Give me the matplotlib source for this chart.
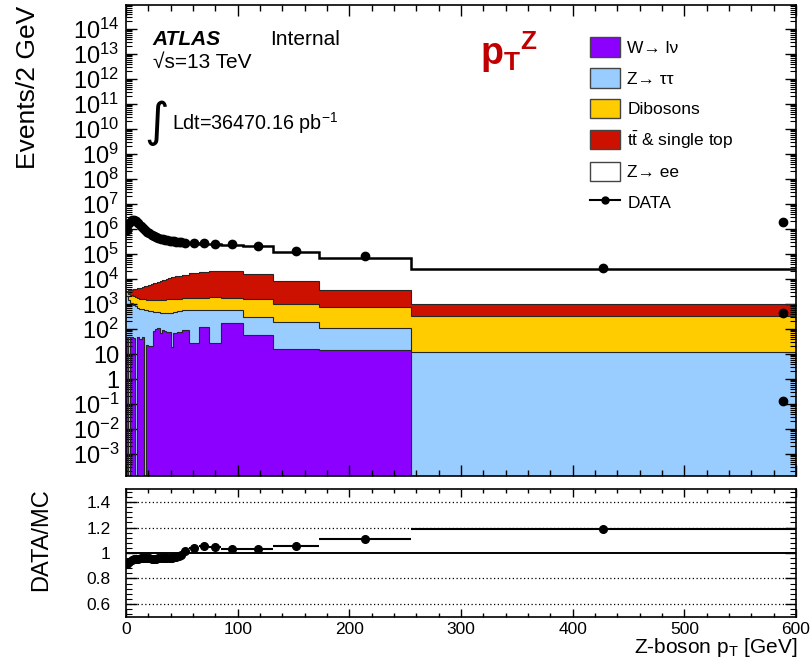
import numpy as np
import matplotlib
matplotlib.use("Agg")
import matplotlib.pyplot as plt
from matplotlib.patches import Patch
from matplotlib.lines import Line2D
from matplotlib.ticker import LogLocator, MultipleLocator, FuncFormatter, NullFormatter, FixedLocator

plt.rcParams['font.family'] = ['Liberation Sans', 'DejaVu Sans']
plt.rcParams['mathtext.fontset'] = 'custom'
plt.rcParams['mathtext.rm'] = 'Liberation Sans'
plt.rcParams['mathtext.it'] = 'Liberation Sans:italic'
plt.rcParams['mathtext.bf'] = 'Liberation Sans:bold'
plt.rcParams['mathtext.sf'] = 'Liberation Sans'

# ---------------- data (events / 2 GeV) ----------------
bin_edges = [0, 2, 4, 6, 8, 10, 12, 14, 16, 18, 20, 22, 24, 26, 28, 30, 32, 34, 36, 38,
             40, 42, 44, 46, 48, 50, 56, 65, 74, 85, 105, 132, 173, 255, 600]

w_lnu = [50, 0, 50, 45, 0, 50, 40, 50, 0, 22, 20, 20, 80, 100, 110, 70, 90, 80, 75, 75,
         19, 68, 70, 78, 78, 90, 27, 123, 28, 178, 60, 16, 15, 0]
z_tautau = [1950, 1410, 1070, 890, 795, 660, 620, 580, 590, 540, 515, 505, 420, 380, 360,
            385, 355, 355, 350, 350, 420, 390, 410, 425, 445, 460, 550, 465, 565, 400,
            250, 180, 97, 11.5]
dibosons = [1100, 1220, 1170, 1110, 1070, 1030, 1000, 955, 925, 915, 910, 920, 945, 965,
            1010, 1020, 1065, 1075, 1120, 1120, 1150, 1130, 1145, 1120, 1135, 1150, 1200,
            1230, 1230, 1200, 1205, 805, 645, 305]
top_single = [300, 920, 1420, 1850, 2210, 2530, 2810, 3200, 3620, 4020, 4440, 4870, 5320,
              5800, 6280, 6840, 7400, 8040, 8680, 9170, 9900, 10440, 10970, 11560, 12140,
              13440, 15200, 17240, 18600, 19600, 15080, 7710, 2960, 730]
z_ee = [997000, 1896000, 2446000, 2396000, 2086000, 1736000, 1406000, 1145000, 950000,
        808000, 686000, 597000, 530000, 483000, 439000, 409000, 389000, 370000, 353000,
        336000, 328000, 319000, 303000, 296000, 288000, 267000, 252000, 238000, 225000,
        213000, 183000, 111000, 68700, 23000]
data = [918000, 1767000, 2310000, 2280000, 1996000, 1665000, 1351000, 1102000, 915800,
        778900, 662200, 576500, 513400, 468900, 427800, 399500, 381300, 364400, 348500,
        333100, 326100, 319400, 306500, 301600, 296600, 286500, 279000, 270400, 257700,
        241500, 206400, 126000, 80360, 28490]
edge_x = [588, 588, 588]
edge_vals = [1.95e6, 450, 0.135]

labels = ['W\u2192 l\u03bd', 'Z\u2192 \u03c4\u03c4', 'Dibosons',
          r'$\mathrm{t\bar{t}}$ & single top', 'Z\u2192 ee', 'DATA']
colors = ['#8C00FF', '#99CCFF', '#FFCC00', '#CC1100', 'white']

# ---------------- figure ----------------
edges = np.array(bin_edges, dtype=float)
centers = 0.5 * (edges[:-1] + edges[1:])
halfw = 0.5 * (edges[1:] - edges[:-1])

fig = plt.figure(figsize=(8.12, 6.64), dpi=100)
ax = fig.add_axes([0.1552, 0.2831, 0.8251, 0.7094])
rax = fig.add_axes([0.1552, 0.0712, 0.8251, 0.1919])

floor = 1e-6
bottom = np.zeros(len(centers))
cum_tops = []
for vals, col in zip([w_lnu, z_tautau, dibosons, top_single, z_ee], colors):
    topc = bottom + np.asarray(vals, dtype=float)
    ax.stairs(np.maximum(topc, floor), edges, baseline=np.maximum(bottom, floor),
              fill=True, color=col, lw=0, zorder=1)
    cum_tops.append(topc)
    bottom = topc
for i, c in enumerate(cum_tops):
    if i < 4:
        ax.stairs(np.maximum(c, floor), edges, baseline=None, color='#262626', lw=0.8, zorder=2)
    else:
        ax.stairs(c, edges, baseline=None, color='black', lw=1.8, zorder=3)

ax.plot(centers, data, 'o', color='black', ms=6, zorder=4)
ax.plot(edge_x, edge_vals, 'o', color='black', ms=6, zorder=4)

ax.set_xlim(0, 600)
ax.set_yscale('log')
ax.set_ylim(10 ** -3.88, 10 ** 14.96)

def fmt(v, pos):
    e = int(round(np.log10(v)))
    if e == 0:
        return '1'
    if e == 1:
        return '10'
    return r'$10^{%d}$' % e

ax.yaxis.set_major_locator(FixedLocator([10.0 ** k for k in range(-3, 15)]))
ax.yaxis.set_minor_locator(LogLocator(base=10, subs=np.arange(2, 10), numticks=40))
ax.yaxis.set_major_formatter(FuncFormatter(fmt))
ax.yaxis.set_minor_formatter(NullFormatter())
ax.xaxis.set_major_locator(MultipleLocator(100))
ax.xaxis.set_minor_locator(MultipleLocator(20))
ax.tick_params(which='both', direction='in', top=True, right=True, labelbottom=False)
ax.tick_params(axis='x', which='major', length=8, width=1)
ax.tick_params(axis='x', which='minor', length=4, width=1)
ax.tick_params(axis='y', which='major', length=8, width=1, labelsize=17, pad=5)
ax.tick_params(axis='y', which='minor', length=4, width=0.8)
for s in ax.spines.values():
    s.set_linewidth(1.2)

# texts
ax.text(0.040, 0.915, 'ATLAS', transform=ax.transAxes, fontsize=15,
        fontweight='bold', fontstyle='italic', va='baseline')
ax.text(0.215, 0.915, 'Internal', transform=ax.transAxes, fontsize=15, va='baseline')
ax.text(0.040, 0.866, '\u221as=13 TeV', transform=ax.transAxes, fontsize=15,
        va='baseline')
ax.text(0.028, 0.748, '\u222b', transform=ax.transAxes, fontsize=34, va='center',
        family=['DejaVu Sans'], fontstyle='italic')
ax.text(0.068, 0.735, r'Ldt=36470.16 pb$^{\mathrm{-1}}$', transform=ax.transAxes,
        fontsize=14.2, va='baseline')
ax.text(0.528, 0.873, r'$\mathbf{p}_{\mathbf{T}}{}^{\mathbf{Z}}$', transform=ax.transAxes,
        fontsize=27, color='#C00000', va='baseline')

handles = [Patch(facecolor=c, edgecolor='#444444', lw=1) for c in colors]
handles.append(Line2D([], [], color='black', marker='o', ms=5, lw=1.5))
ax.legend(handles, labels, loc='upper left', bbox_to_anchor=(0.6925, 0.931),
          frameon=False, borderpad=0, borderaxespad=0, fontsize=12.5,
          handlelength=1.75, handleheight=1.35, handletextpad=0.4, labelspacing=0.64)

# ratio
mc_total = cum_tops[-1]
ratio = np.asarray(data) / mc_total
for v in [0.6, 0.8, 1.2, 1.4]:
    rax.axhline(v, color='black', ls=(0, (1, 2)), lw=0.9, zorder=1)
rax.axhline(1.0, color='black', lw=1.4, zorder=1)
rax.errorbar(centers, ratio, xerr=halfw, fmt='o', color='black', ms=5.5,
             elinewidth=1.5, capsize=0, zorder=3)
rax.set_xlim(0, 600)
rax.set_ylim(0.5, 1.5)
rax.set_yticks([0.6, 0.8, 1.0, 1.2, 1.4])
rax.set_yticklabels(['0.6', '0.8', '1', '1.2', '1.4'])
rax.yaxis.set_minor_locator(MultipleLocator(0.04))
rax.xaxis.set_major_locator(MultipleLocator(100))
rax.xaxis.set_minor_locator(MultipleLocator(20))
rax.tick_params(which='both', direction='in', top=True, right=True)
rax.tick_params(axis='x', which='major', length=6, width=1, labelsize=12.5, pad=4)
rax.tick_params(axis='x', which='minor', length=3, width=1)
rax.tick_params(axis='y', which='major', length=8, width=1, labelsize=12.5, pad=11)
rax.tick_params(axis='y', which='minor', length=4, width=0.8)
for s in rax.spines.values():
    s.set_linewidth(1.2)

fig.text(28 / 812, 1 - 6 / 664, 'Events/2 GeV', rotation=90, ha='center', va='top',
         fontsize=19)
fig.text(41 / 812, 1 - 540 / 664, 'DATA/MC', rotation=90, ha='center', va='center',
         fontsize=17)
fig.text(797 / 812, 1 - 653 / 664, r'Z-boson p$_{\mathrm{T}}$ [GeV]', ha='right',
         va='baseline', fontsize=15)

fig.savefig('out.png', dpi=100)
